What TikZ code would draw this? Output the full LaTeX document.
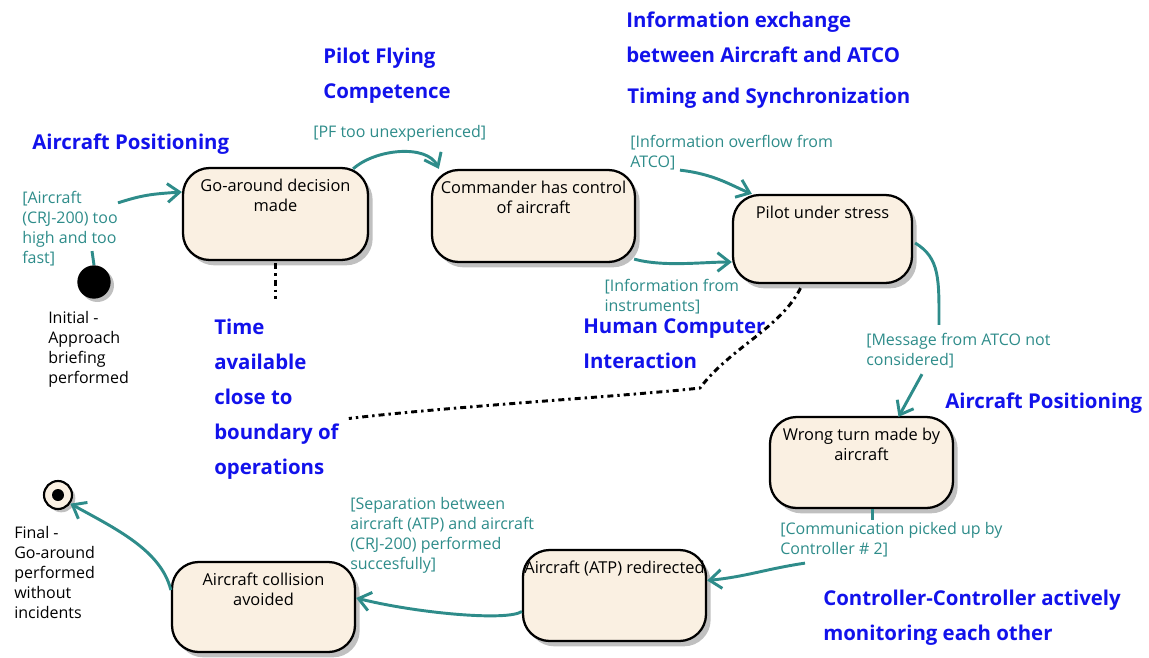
\documentclass[tikz,border=0pt]{standalone}
\usepackage{fontspec}
\setmainfont{Open Sans}
\usetikzlibrary{arrows.meta,shadows,calc}
\definecolor{tealc}{RGB}{46,140,138}
\definecolor{bluec}{RGB}{18,18,235}
\definecolor{beige}{RGB}{250,240,226}
\definecolor{shad}{RGB}{192,192,192}
\newcommand{\stxt}[3]{\parbox[c][#2][t]{#1}{\centering\vspace*{8pt}#3\par}}
\begin{document}
\begin{tikzpicture}[x=0.75pt,y=-0.75pt,
  state/.style={draw=black, line width=1.7pt, rounded corners=20pt, fill=beige, inner sep=0pt,
    drop shadow={shadow xshift=3.5pt, shadow yshift=-4pt, fill=shad, opacity=1},
    font=\fontsize{12.3}{15}\selectfont},
  guard/.style={text=tealc, font=\fontsize{12}{15}\selectfont, align=left, inner sep=0pt, anchor=west},
  factor/.style={text=bluec, font=\fontsize{15.3}{26.25}\selectfont\bfseries, align=left, inner sep=0pt, anchor=west},
  note/.style={text=black, font=\fontsize{12}{15}\selectfont, align=left, inner sep=0pt, anchor=west},
  flow/.style={draw=tealc, line width=2.2pt, -{Straight Barb[length=9pt,width=14pt]}},
  stub/.style={draw=tealc, line width=2.2pt},
  dotl/.style={draw=black, line width=2.2pt, dash pattern=on 4.5pt off 3pt on 1.8pt off 3pt}]
\useasboundingbox (0,0) rectangle (1149,657);

% states
\node[state] (go) at (275.5,214) {\stxt{138.75pt}{69pt}{Go-around decision\\made}};
\node[state] (com) at (533.5,216) {\stxt{152.25pt}{69pt}{Commander has control\\of aircraft}};
\node[state] (ps) at (822.5,239) {\stxt{134.25pt}{66pt}{Pilot under stress}};
\node[state] (wt) at (861.5,462.5) {\stxt{137.25pt}{68.25pt}{Wrong turn made by\\aircraft}};
\node[state] (atp) at (614.5,595.5) {\stxt{137.25pt}{68.25pt}{Aircraft (ATP) redirected}};
\node[state] (col) at (263.5,607) {\stxt{137.25pt}{67.5pt}{Aircraft collision\\avoided}};

% initial and final
\node[circle, fill=black, minimum size=25pt, inner sep=0pt,
  drop shadow={shadow xshift=2.5pt, shadow yshift=-2.5pt, fill=shad, opacity=1}] (init) at (94,282) {};
\node[circle, draw=black, line width=1.6pt, fill=beige, minimum size=21pt, inner sep=0pt,
  drop shadow={shadow xshift=2.5pt, shadow yshift=-2.5pt, fill=shad, opacity=1}] (fin) at (58,495) {};
\node[circle, fill=black, minimum size=9pt, inner sep=0pt] (finc) at (fin) {};

% guard labels
\node[guard] (la) at (22,228.5) {[Aircraft\\(CRJ-200) too\\high and too\\fast]};
\node[guard] (lp) at (313,133) {[PF too unexperienced]};
\node[guard] (lo) at (630,152.5) {[Information overflow from\\ATCO]};
\node[guard, fill=white, inner sep=1pt] (li) at (603,296.5) {[Information from\\instruments]};
\node[guard] (lm) at (866,350.5) {[Message from ATCO not\\considered]};
\node[guard] (lc) at (780,539.5) {[Communication picked up by\\Controller \# 2]};
\node[guard] (ls) at (350,535.5) {[Separation between\\aircraft (ATP) and aircraft\\(CRJ-200) performed\\succesfully]};

% notes
\node[note] (ini) at (48,349) {Initial -\\Approach\\briefing\\performed};
\node[note] (fint) at (14,572) {Final -\\Go-around\\performed\\without\\incidents};

% factors
\node[factor] (bp) at (323,75.5) {Pilot Flying\\Competence};
\node[factor] (bi) at (626,37.5) {Information exchange\\between Aircraft and ATCO};
\node[factor] (bt) at (627,98) {Timing and Synchronization};
\node[factor] (ba1) at (32,144) {Aircraft Positioning};
\node[factor] (tm) at (214,399.5) {Time\\available\\close to\\boundary of\\operations};
\node[factor] (hc) at (583,343.5) {Human Computer\\Interaction};
\node[factor] (ba2) at (945,403) {Aircraft Positioning};
\node[factor] (cc) at (823,618) {Controller-Controller actively\\monitoring each other};

% connectors
\draw[stub] (init.north) -- ++(-2,-14);
\draw[flow] ($(la.north west)+(96,12)$) .. controls +(25,-8) and +(-30,2) .. ($(go.west)+(0,-22)$);
\draw[flow] ($(go.north east)+(-16,2)$) .. controls +(22,-20) and +(-12,-25) .. ($(com.north west)+(8,0)$);
\draw[flow] ($(com.south east)+(-2,-4)$) .. controls +(30,8) and +(-30,0) .. ($(ps.west)+(0,23)$);
\draw[flow] ($(lo.south west)+(50,0)$) .. controls +(35,4) and +(-20,-8) .. ($(ps.north west)+(20,0)$);
\draw[stub] ($(ps.east)+(2,4)$) .. controls +(25,15) and +(0,-45) .. ($(lm.north west)+(73,-8)$);
\draw[flow] ($(lm.south west)+(56,6)$) -- ($(wt.north)+(37,1)$);
\draw[stub] ($(wt.south)+(11,0)$) -- ($(wt.south)+(11,11)$);
\draw[flow] ($(lc.south west)+(25,6)$) .. controls +(-40,6) and +(40,-4) .. ($(atp.east)+(0,-15)$);
\draw[flow] ($(atp.west)+(0,16)$) .. controls +(-15,10) and +(60,15) .. ($(col.east)+(0,-9)$);
\draw[flow] ($(col.west)+(0,-17)$) .. controls +(-10,-40) and +(45,25) .. (fin.-35);

% dotted note links
\coordinate (kink) at (700,388);
\draw[dotl] ($(go.south)+(0,2)$) -- ++(0,36);
\draw[dotl] ($(ps.south)+(-22,4)$) .. controls +(-20,40) and +(30,-40) .. (kink)
  .. controls +(-70,8) and +(100,-12) .. ($(tm.east)+(10,19)$);
\end{tikzpicture}
\end{document}
